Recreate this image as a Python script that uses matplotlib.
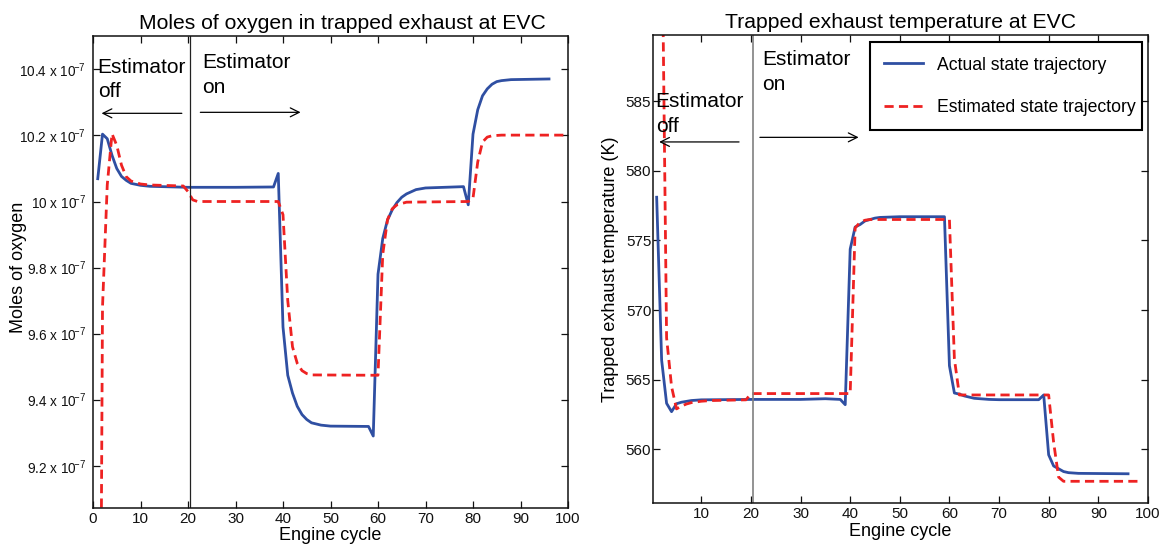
import matplotlib
matplotlib.use('Agg')
import matplotlib.pyplot as plt

plt.rcParams['font.family'] = ['Liberation Sans', 'DejaVu Sans']
plt.rcParams['mathtext.fontset'] = 'custom'
plt.rcParams['mathtext.rm'] = 'Liberation Sans'
plt.rcParams['mathtext.it'] = 'Liberation Sans:italic'
plt.rcParams['axes.unicode_minus'] = True

# ---------------- data ----------------
# Left: moles of oxygen (units of 1e-7)
o2_act_x = [1, 2, 3, 4, 5, 6, 7, 8, 10, 12, 20, 30, 38, 39, 40, 41, 42, 43, 44, 45, 46, 48, 50, 58,
            59, 60, 61, 62, 63, 64, 65, 66, 68, 70, 78, 79, 80, 81, 82, 83, 84, 85, 86, 88, 96]
o2_act_y = [10.069, 10.204, 10.19, 10.14, 10.10, 10.076, 10.064, 10.055, 10.049, 10.046, 10.043, 10.043,
            10.044, 10.085, 9.62, 9.474, 9.42, 9.38, 9.355, 9.34, 9.33, 9.323, 9.32, 9.319,
            9.29, 9.78, 9.888, 9.944, 9.975, 9.997, 10.013, 10.023, 10.036, 10.041, 10.045, 9.99,
            10.204, 10.278, 10.32, 10.341, 10.355, 10.363, 10.366, 10.369, 10.371]
o2_est_x = [1, 2, 3, 4, 5, 6, 7, 8, 10, 12, 19, 20, 21, 22, 30, 39, 40, 41, 42, 43, 44, 45, 46, 59,
            60, 61, 62, 63, 64, 66, 79, 80, 81, 82, 83, 84, 86, 100]
o2_est_y = [7.0, 9.68, 10.05, 10.205, 10.17, 10.11, 10.075, 10.062, 10.053, 10.05, 10.047, 10.03,
            10.005, 10.0, 10.0, 10.0, 9.96, 9.70, 9.56, 9.51, 9.488, 9.479, 9.475, 9.474,
            9.474, 9.84, 9.945, 9.978, 9.99, 9.998, 10.0, 10.01, 10.12, 10.18, 10.195, 10.199, 10.201, 10.201]
o2_ticks = [9.2, 9.4, 9.6, 9.8, 10.0, 10.2, 10.4]
o2_ticklabels = ['9.2', '9.4', '9.6', '9.8', '10', '10.2', '10.4']

# Right: trapped exhaust temperature (K)
T_act_x = [1, 2, 3, 4, 5, 6, 8, 10, 20, 30, 35, 38, 39, 40, 41, 42, 43, 44, 45, 46, 50, 59,
           60, 61, 62, 63, 65, 68, 70, 78, 79, 80, 81, 82, 83, 84, 86, 96]
T_act_y = [578.1, 566.4, 563.3, 562.7, 563.27, 563.38, 563.5, 563.55, 563.58, 563.58, 563.63, 563.58,
           563.2, 574.37, 575.96, 576.14, 576.4, 576.5, 576.6, 576.65, 576.7, 576.7,
           566.0, 564.04, 563.96, 563.83, 563.66, 563.58, 563.56, 563.56, 563.9, 559.6, 558.8, 558.6,
           558.4, 558.32, 558.27, 558.24]
T_est_x = [1, 2, 3, 4, 5, 6, 7, 8, 10, 12, 19, 20, 39, 40, 41, 42, 43, 44, 60, 61, 62, 80, 81, 82, 83, 98]
T_est_y = [640, 600, 568, 564.5, 562.9, 563.1, 563.25, 563.35, 563.45, 563.5, 563.55, 564.0, 564.0,
           564.0, 575.9, 576.3, 576.45, 576.5, 576.5, 566.5, 563.9, 563.9, 560.5, 558.0, 557.7, 557.7]
T_ticks = [560, 565, 570, 575, 580, 585]

estimator_switch = 20.5
legend_labels = ['Actual state trajectory', 'Estimated state trajectory']

# ---------------- style ----------------
BLUE = '#2f4fa2'
RED = '#ee2222'
LW = 2.0
DASH = (0, (3.3, 1.9))
W, H = 1172, 550

fig = plt.figure(figsize=(W / 100, H / 100), dpi=100)

def px_axes(l, t, r, b):
    return fig.add_axes([l / W, 1 - b / H, (r - l) / W, (b - t) / H])

ax1 = px_axes(93, 35.7, 568, 507.7)
ax2 = px_axes(652.7, 35, 1147.9, 503.3)

for ax in (ax1, ax2):
    for s in ax.spines.values():
        s.set_linewidth(1.1)
        s.set_color('#111111')
    ax.tick_params(direction='in', top=True, right=True, length=5, width=0.9,
                   labelsize=11, colors='#111111')
    ax.tick_params(axis='x', pad=3)

# ---- left ----
ax1.plot(o2_act_x, o2_act_y, color=BLUE, lw=LW, solid_joinstyle='round')
ax1.plot(o2_est_x, o2_est_y, color=RED, lw=LW, linestyle=DASH)
ax1.axvline(estimator_switch, color='#222222', lw=0.9)
ax1.set_xlim(0, 100)
ax1.set_ylim(9.073, 10.502)
ax1.set_xticks(range(0, 101, 10))
ax1.set_yticks(o2_ticks)
ax1.set_yticklabels([t + r' x 10$\!^{-7}$' for t in o2_ticklabels])
ax1.tick_params(axis='y', pad=5, labelsize=9.8)
ax1.set_title('Moles of oxygen in trapped exhaust at EVC', fontsize=15.2, x=0.5255, pad=5)
ax1.set_xlabel('Engine cycle', fontsize=13, labelpad=1)
ax1.set_ylabel('Moles of oxygen', fontsize=13)
ax1.yaxis.set_label_coords(-0.139, 0.51)

ax1.text(0.98, 10.39, 'Estimator', fontsize=15, va='baseline', ha='left')
ax1.text(0.98, 10.317, 'off', fontsize=15, va='baseline', ha='left')
ax1.text(23.0, 10.405, 'Estimator', fontsize=15, va='baseline', ha='left')
ax1.text(23.0, 10.33, 'on', fontsize=15, va='baseline', ha='left')
arrow = dict(arrowstyle='->', lw=0.9, color='black', mutation_scale=16, shrinkA=0, shrinkB=0)
ax1.annotate('', xy=(1.8, 10.267), xytext=(18.7, 10.267), arrowprops=arrow)
ax1.annotate('', xy=(43.7, 10.27), xytext=(22.6, 10.27), arrowprops=arrow)

# ---- right ----
l1, = ax2.plot(T_act_x, T_act_y, color=BLUE, lw=LW, solid_joinstyle='round')
l2, = ax2.plot(T_est_x, T_est_y, color=RED, lw=LW, linestyle=DASH)
ax2.axvline(estimator_switch, color='#808080', lw=1.2)
ax2.set_xlim(0.2, 100)
ax2.set_ylim(556.12, 589.75)
ax2.set_xticks(range(10, 101, 10))
ax2.set_yticks(T_ticks)
ax2.tick_params(axis='y', pad=1)
ax2.set_title('Trapped exhaust temperature at EVC', fontsize=15.2, pad=5)
ax2.set_xlabel('Engine cycle', fontsize=13, labelpad=1)
ax2.set_ylabel('Trapped exhaust temperature (K)', fontsize=13)
ax2.yaxis.set_label_coords(-0.068, 0.5)

ax2.text(0.8, 584.6, 'Estimator', fontsize=15, va='baseline', ha='left')
ax2.text(0.8, 582.8, 'off', fontsize=15, va='baseline', ha='left')
ax2.text(22.3, 587.6, 'Estimator', fontsize=15, va='baseline', ha='left')
ax2.text(22.3, 585.8, 'on', fontsize=15, va='baseline', ha='left')
ax2.annotate('', xy=(1.5, 582.07), xytext=(17.6, 582.07), arrowprops=arrow)
ax2.annotate('', xy=(41.7, 582.4), xytext=(21.8, 582.4), arrowprops=arrow)

leg = ax2.legend([l1, l2], legend_labels, loc='upper left',
                 bbox_to_anchor=(0.439, 0.799, 0.5485, 0.185), mode='expand',
                 borderaxespad=0, fontsize=12.7, frameon=True, fancybox=False,
                 handlelength=2.2, handletextpad=0.8, labelspacing=1.45, borderpad=0.8)
fr = leg.get_frame()
fr.set_edgecolor('black')
fr.set_linewidth(1.5)
fr.set_alpha(1)

fig.savefig('out.png', dpi=100)
